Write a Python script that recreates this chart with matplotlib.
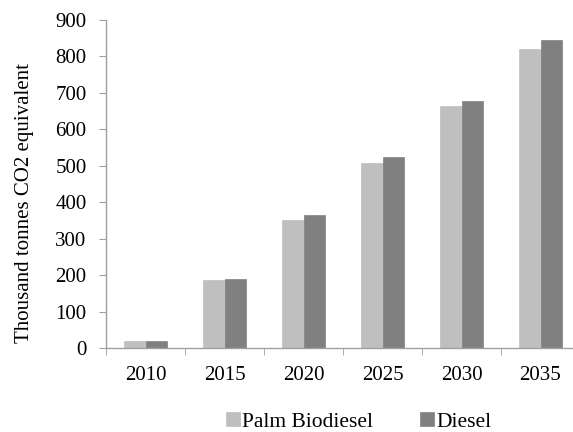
import matplotlib
matplotlib.use("Agg")
import matplotlib.pyplot as plt
import numpy as np

years = ["2010", "2015", "2020", "2025", "2030", "2035"]
palm_biodiesel = [19, 186, 352, 508, 664, 820]
diesel = [20, 190, 366, 523, 679, 845]
series_names = ["Palm Biodiesel", "Diesel"]
colors = ["#BFBFBF", "#808080"]

plt.rcParams['font.family'] = ['Liberation Serif', 'DejaVu Serif']

fig = plt.figure(figsize=(5.73, 4.32), dpi=100)
ax = fig.add_axes([106/573, 1-348/432, 474/573, 328/432])

x = np.arange(len(years))
w = 0.27
ax.bar(x - w/2, palm_biodiesel, w, color=colors[0], label=series_names[0], edgecolor=colors[0], linewidth=0.5)
ax.bar(x + w/2, diesel, w, color=colors[1], label=series_names[1], edgecolor=colors[1], linewidth=0.5)

ax.set_xlim(-0.5, len(years) - 0.5)
ax.set_ylim(0, 900)
ax.set_yticks(range(0, 901, 100))
ax.set_xticks(x)
ax.set_xticklabels(years)
ax.set_xticks(np.arange(-0.5, len(years), 1), minor=True)
ax.tick_params(axis='x', which='major', length=0, pad=13, labelsize=15)
ax.tick_params(axis='x', which='minor', length=5, color='#A0A0A0', direction='out')
ax.tick_params(axis='y', length=5, color='#A0A0A0', labelsize=15, pad=9)

for s in ['top', 'right']:
    ax.spines[s].set_visible(False)
for s in ['left', 'bottom']:
    ax.spines[s].set_color('#A0A0A0')
    ax.spines[s].set_linewidth(1.0)

ax.set_ylabel("Thousand tonnes CO2 equivalent", fontsize=15)
ax.yaxis.set_label_coords(-0.152, 0.442)

fig.legend(loc='center', bbox_to_anchor=(0.626, 0.024), ncol=2, frameon=False,
           fontsize=15.5, handlelength=0.65, handleheight=0.65, handletextpad=0.1,
           columnspacing=2.2, borderpad=0, borderaxespad=0)

fig.savefig("out.png", dpi=100)
